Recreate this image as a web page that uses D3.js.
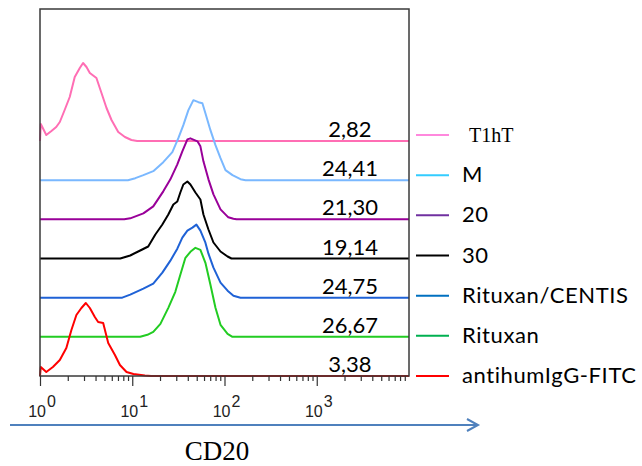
<!DOCTYPE html>
<html>
<head>
<meta charset="utf-8">
<script src="https://cdn.jsdelivr.net/npm/d3@7"></script>
<style>
  body { margin: 0; background: #fff; }
  svg { display: block; }
</style>
</head>
<body>
<div id="chart"></div>
<script>
// series, top to bottom
const seriesNames = ["T1hT", "M", "20", "30", "Rituxan/CENTIS", "Rituxan", "antihumIgG-FITC"];
const lineColors = ["#ff6eb4", "#7ab8ff", "#990099", "#000000", "#1f62d6", "#22cc22", "#ff0000"];
const legendColors = ["#ff88dd", "#33ccff", "#7030a0", "#000000", "#0070c0", "#00b050", "#ff0000"];
const mfiLabels = ["2,82", "24,41", "21,30", "19,14", "24,75", "26,67", "3,38"];

// histogram points: [CD20 intensity, relative count]
const t1htHist = [[1, 0], [1.02, 17], [1.17, 6], [1.33, 10], [1.5, 14], [1.64, 19], [1.85, 31], [2.1, 44],
  [2.38, 64], [2.7, 73], [2.93, 78], [3.19, 74], [3.47, 68], [4.09, 63], [4.64, 48], [5.26, 33],
  [5.96, 21], [7.05, 9], [8.33, 4], [9.8, 1], [11.3, 0]];
const mHist = [[8.98, 0], [10.8, 2], [13.2, 5], [16.9, 9], [21.7, 18], [27.2, 28], [31.6, 42], [35.8, 55],
  [40.6, 70], [46.0, 80], [52.2, 78], [57.6, 77], [62.1, 67], [70.4, 50], [79.8, 35], [90.5, 22],
  [102.5, 10], [122, 5], [149, 1], [169, 0]];
const h20Hist = [[8.19, 0], [9.51, 1], [13.2, 6], [16.9, 13], [21.7, 28], [25.9, 40], [30.8, 55], [34.9, 68],
  [39.6, 80], [42.7, 81], [50.9, 78], [54.8, 73], [59.1, 58], [67.0, 40], [75.9, 25], [90.5, 10],
  [110, 2], [125, 0.5], [135, 0]];
const h30Hist = [[7.41, 0], [9.51, 3], [12.2, 8], [14.9, 12], [17.8, 24], [21.2, 34], [24.6, 44], [27.9, 54],
  [30.8, 57], [33.2, 66], [35.8, 74], [39.6, 77], [42.7, 74], [48.4, 66], [54.8, 59], [59.1, 44],
  [67.0, 29], [75.9, 16], [90.5, 7], [108, 2], [119, 0]];
const centisHist = [[7.79, 0], [9.51, 3], [13.2, 9], [16.9, 14], [21.2, 25], [25.9, 37], [30.8, 49], [34.9, 60],
  [39.6, 67], [44.9, 70], [49.6, 73], [54.8, 67], [62.1, 55], [67.0, 44], [75.9, 30], [90.5, 15],
  [108, 7], [125, 2], [149, 0]];
const rituxanHist = [[12.2, 0], [14.6, 2], [16.9, 5], [20.2, 13], [24.6, 29], [29.3, 45], [33.2, 62], [37.7, 79],
  [42.7, 85], [48.4, 89], [54.8, 87], [62.1, 74], [70.4, 52], [79.8, 29], [90.5, 12], [108, 3], [122, 0]];
const iggHist = [[1, 0], [1.02, 9], [1.17, 4], [1.38, 9], [1.64, 16], [1.93, 28], [2.19, 46], [2.48, 61],
  [2.81, 68], [3.14, 73], [3.47, 68], [3.93, 59], [4.27, 54], [4.84, 53], [5.49, 33], [6.49, 21],
  [7.35, 11], [8.67, 4], [10.3, 2], [13.7, 0.5], [16, 0]];
const histograms = [t1htHist, mHist, h20Hist, h30Hist, centisHist, rituxanHist, iggHist];

const decades = [1, 10, 100, 1000];
const tickExponents = ["0", "1", "2", "3"];

const width = 642, height = 466;
const box = { left: 40, top: 9, right: 409, bottom: 376 };

const svg = d3.select("#chart").append("svg")
  .attr("width", width)
  .attr("height", height);

const x = d3.scaleLog().domain([1, 10000]).range([box.left, box.right]);
const baseline = d3.scalePoint().domain(seriesNames).range([141, box.bottom]);
const count = d3.scaleLinear().domain([0, 100]).range([0, 100]);
const legendY = d3.scalePoint().domain(seriesNames).range([135, 376]);

// histogram traces
const line = d3.line()
  .x(d => x(d[0]))
  .y(d => d.base - count(d[1]));

const traces = svg.append("g").attr("class", "traces");
seriesNames.forEach((name, i) => {
  let pts = histograms[i].slice();
  if (pts[0][0] > x.domain()[0]) pts.unshift([x.domain()[0], 0]);
  pts.push([x.domain()[1], 0]);
  pts = pts.map(p => { const q = [p[0], p[1]]; q.base = baseline(name); return q; });
  traces.append("path")
    .datum(pts)
    .attr("fill", "none")
    .attr("stroke", lineColors[i])
    .attr("stroke-width", 2)
    .attr("stroke-linejoin", "round")
    .attr("d", line);
});

// frame
svg.append("rect")
  .attr("x", box.left).attr("y", box.top)
  .attr("width", box.right - box.left).attr("height", box.bottom - box.top)
  .attr("fill", "none").attr("stroke", "#3a3a3a").attr("stroke-width", 1.5);

// MFI values
svg.append("g").selectAll("text")
  .data(mfiLabels)
  .enter().append("text")
  .attr("x", 350)
  .attr("y", (d, i) => baseline(seriesNames[i]) - 4)
  .attr("text-anchor", "middle")
  .attr("font-family", "Lato, 'Open Sans', sans-serif")
  .attr("font-size", 22)
  .attr("fill", "#000")
  .text(d => d);

// log axis ticks
const minorTicks = [];
decades.forEach(d => { for (let k = 2; k <= 9; k++) minorTicks.push(d * k); });

const axisG = svg.append("g").attr("transform", `translate(0,${box.bottom})`);
axisG.call(d3.axisBottom(x).tickValues(minorTicks).tickSize(5).tickFormat(""));
axisG.append("g").call(d3.axisBottom(x).tickValues(decades).tickSize(10).tickFormat(""));
axisG.selectAll(".domain").remove();
axisG.selectAll(".tick line").attr("stroke", "#333").attr("stroke-width", 1.2);

const labels = svg.append("g")
  .attr("font-family", "'Liberation Sans', Arial, sans-serif")
  .attr("font-size", 16)
  .attr("fill", "#222");
decades.forEach((d, i) => {
  const t = labels.append("text")
    .attr("x", x(d) + 2)
    .attr("y", 417)
    .attr("text-anchor", "middle");
  t.append("tspan").text("10");
  t.append("tspan").attr("dy", -10).attr("dx", 1).text(tickExponents[i]);
});

// arrow
svg.append("line")
  .attr("x1", 10).attr("y1", 425).attr("x2", 477).attr("y2", 425)
  .attr("stroke", "#4f81bd").attr("stroke-width", 2);
svg.append("path")
  .attr("d", "M467,419 L478,425 L467,431")
  .attr("fill", "none").attr("stroke", "#4f81bd").attr("stroke-width", 2);

svg.append("text")
  .attr("x", 217).attr("y", 460)
  .attr("text-anchor", "middle")
  .attr("font-family", "'Liberation Serif', 'Times New Roman', serif")
  .attr("font-size", 27)
  .text("CD20");

// legend
const legend = svg.append("g");
seriesNames.forEach((name, i) => {
  const y = legendY(name);
  legend.append("line")
    .attr("x1", 416).attr("x2", 449).attr("y1", y).attr("y2", y)
    .attr("stroke", legendColors[i]).attr("stroke-width", 2);
  legend.append("text")
    .attr("x", i === 0 ? 469 : 462)
    .attr("y", y + 7)
    .attr("font-family", i === 0 ? "'Liberation Serif', serif" : "Lato, 'Open Sans', sans-serif")
    .attr("font-size", i === 0 ? 20 : 22)
    .attr("letter-spacing", i === 0 ? 0 : 0.6)
    .attr("fill", "#000")
    .text(name);
});
</script>
</body>
</html>
